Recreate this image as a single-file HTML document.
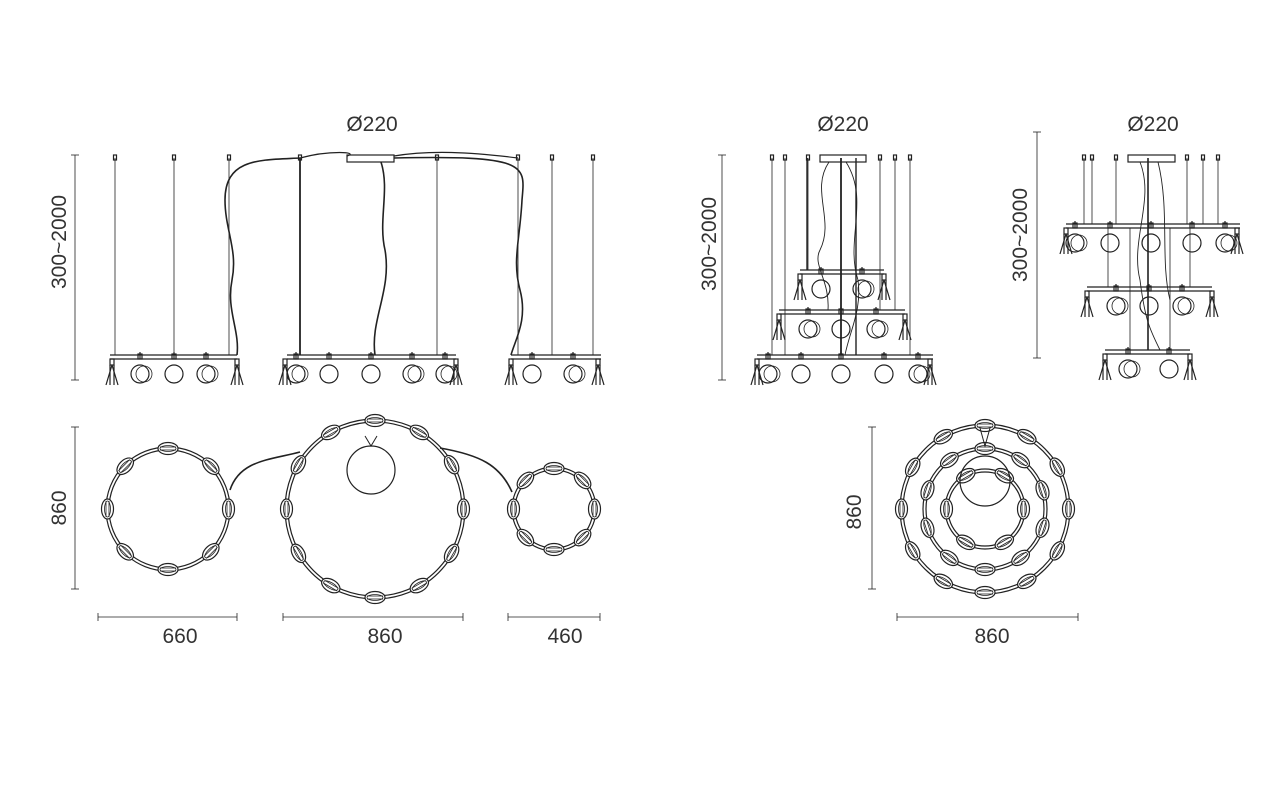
<!DOCTYPE html>
<html><head><meta charset="utf-8"><style>
html,body{margin:0;padding:0;background:#fff;width:1264px;height:788px;overflow:hidden}
svg text{font-family:"Liberation Sans",sans-serif;font-size:21px;fill:#333}
</style></head><body>
<svg id="s" width="1264" height="788" xmlns="http://www.w3.org/2000/svg" stroke="#222" fill="none" stroke-width="1.2">
<text x="372" y="131" text-anchor="middle" stroke="none">Ø220</text>
<text x="843" y="131" text-anchor="middle" stroke="none">Ø220</text>
<text x="1153" y="131" text-anchor="middle" stroke="none">Ø220</text>
<text transform="translate(66,242) rotate(-90)" text-anchor="middle" stroke="none">300~2000</text>
<text transform="translate(716,244) rotate(-90)" text-anchor="middle" stroke="none">300~2000</text>
<text transform="translate(1027,235) rotate(-90)" text-anchor="middle" stroke="none">300~2000</text>
<text transform="translate(66,508) rotate(-90)" text-anchor="middle" stroke="none">860</text>
<text transform="translate(861,512) rotate(-90)" text-anchor="middle" stroke="none">860</text>
<text x="180" y="643" text-anchor="middle" stroke="none">660</text>
<text x="385" y="643" text-anchor="middle" stroke="none">860</text>
<text x="565" y="643" text-anchor="middle" stroke="none">460</text>
<text x="992" y="643" text-anchor="middle" stroke="none">860</text>
<g id="g"></g>
</svg>
<script>
var g=document.getElementById('g'),h='';
function L(a,b,c,d,w){h+='<line x1="'+a+'" y1="'+b+'" x2="'+c+'" y2="'+d+'"'+(w?' stroke-width="'+w+'"':'')+'/>';}
function C(x,y,r,w){h+='<circle cx="'+x+'" cy="'+y+'" r="'+r+'"'+(w?' stroke-width="'+w+'"':'')+'/>';}
function R(x,y,w,hh){h+='<rect x="'+x+'" y="'+y+'" width="'+w+'" height="'+hh+'"/>';}
function P(d,w){h+='<path d="'+d+'"'+(w?' stroke-width="'+w+'"':'')+'/>';}
function vdim(x,y1,y2){L(x,y1,x,y2,0.8);L(x-4,y1,x+4,y1,0.8);L(x-4,y2,x+4,y2,0.8);}
function hdim(y,x1,x2){L(x1,y,x2,y,0.8);L(x1,y-4,x1,y+4,0.8);L(x2,y-4,x2,y+4,0.8);}
function cone(x,y){R(x-2,y,4,6);L(x,y+6,x-6,y+26);L(x,y+6,x+6,y+26);L(x-2,y+6,x-2,y+26);L(x+2,y+6,x+2,y+26);}
function globe(x,y,dbl){L(x,y-11,x,y-18);R(x-2,y-16,4,5);C(x,y+4,9);if(dbl)C(x+4,y+4,8,0.8);}
function bar(x1,x2,y,items){L(x1,y,x2,y);L(x1,y+4,x2,y+4);items.forEach(function(it){if(it[1]=='k')cone(it[0],y+4);else globe(it[0],y+15,it[1]=='d');});}
function wire(x,y1,y2){L(x,y1,x,y2,0.8);R(x-1.5,y1-3,3,5);}
vdim(75,155,380);
R(347,155,47,7);
[115,174,229,300,437,518,552,593].forEach(function(x){wire(x,158,355);});
L(300,158,300,355,1.8);
P('M300 158 C330 150 360 152 347 156 M394 156 C430 150 470 152 518 158',1.2);
P('M300 158 C260 160 225 158 225 200 C225 230 238 250 232 280 C226 310 240 330 237 355',1.6);
P('M394 158 C530 155 525 165 522 200 C520 240 512 260 520 290 C528 320 515 340 511 355',1.6);
P('M381 162 C390 190 378 220 385 250 C392 290 370 320 375 355',1.6);
bar(110,237,355,[[112,'k'],[140,'d'],[174,'g'],[206,'d'],[237,'k']]);
bar(287,456,355,[[285,'k'],[296,'d'],[329,'g'],[371,'g'],[412,'d'],[445,'d'],[456,'k']]);
bar(511,601,355,[[511,'k'],[532,'g'],[573,'d'],[598,'k']]);
vdim(722,155,380);R(820,155,46,7);
[772,785,808,880,895,910].forEach(function(x){wire(x,158,x<800||x>900?355:(x<850?270:310));});
L(841,158,841,355,1.8);L(807,158,807,270,1.4);L(856,158,856,355,1.4);
P('M829 162 C810 190 835 220 820 250 C812 265 830 280 828 310',0.9);
P('M846 162 C870 200 845 240 858 280 C862 310 850 330 845 355',0.9);
bar(800,884,270,[[800,'k'],[821,'g'],[862,'d'],[884,'k']]);
bar(779,905,310,[[779,'k'],[808,'d'],[841,'g'],[876,'d'],[905,'k']]);
bar(757,933,355,[[757,'k'],[768,'d'],[801,'g'],[841,'g'],[884,'g'],[918,'d'],[930,'k']]);
vdim(1037,132,358);R(1128,155,47,7);
[1084,1092,1116,1187,1203,1218].forEach(function(x){wire(x,158,224);});
[1108,1130,1170,1190].forEach(function(x){L(x,228,x,x<1110||x>1188?287:350,0.8);});
L(1148,158,1148,350,1.6);
P('M1140 162 C1155 200 1130 240 1140 280 C1145 320 1150 330 1160 350',0.9);
P('M1158 162 C1170 210 1160 260 1170 300',0.9);
bar(1066,1240,224,[[1066,'k'],[1075,'d'],[1110,'g'],[1151,'g'],[1192,'g'],[1225,'d'],[1237,'k']]);
bar(1087,1212,287,[[1087,'k'],[1116,'d'],[1149,'g'],[1182,'d'],[1212,'k']]);
bar(1105,1190,350,[[1105,'k'],[1128,'d'],[1169,'g'],[1190,'k']]);
vdim(75,427,589);hdim(617,98,237);hdim(617,283,463);hdim(617,508,600);
vdim(872,427,589);hdim(617,897,1078);
function ring(cx,cy,r,n,off){C(cx,cy,r);C(cx,cy,r-3);
 for(var i=0;i<n;i++){var a=(off+i*360/n)*Math.PI/180,x=cx+(r-1.5)*Math.cos(a),y=cy+(r-1.5)*Math.sin(a),deg=(off+i*360/n)+90;
 h+='<g transform="translate('+x.toFixed(1)+','+y.toFixed(1)+') rotate('+deg.toFixed(1)+')"><ellipse rx="10" ry="6" fill="#fff"/><ellipse rx="8" ry="3" stroke-width="0.8"/><line x1="-8" y1="-1.5" x2="8" y2="-1.5" stroke-width="0.8"/><line x1="-8" y1="1.5" x2="8" y2="1.5" stroke-width="0.8"/></g>';}}
ring(168,509,62,8,0);ring(375,509,90,12,0);ring(554,509,42,8,0);
C(371,470,24);
P('M230 490 C240 460 270 460 300 452',1.6);P('M440 448 C480 455 500 465 512 492',1.6);
P('M365 436 L371 446 L377 436',1);
ring(985,509,85,12,0);ring(985,509,62,10,18);ring(985,509,40,6,0);
C(985,481,25);P('M980 428 L985 446 L990 428',1);
g.innerHTML=h;
</script>
</body></html>
